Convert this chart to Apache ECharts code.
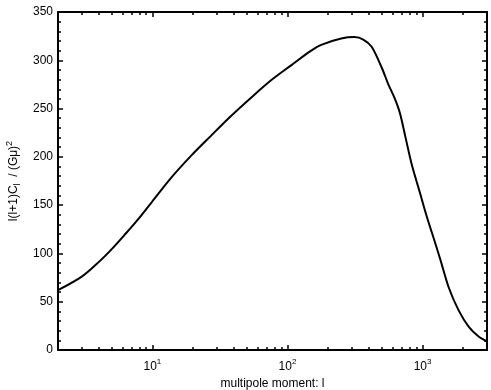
<!DOCTYPE html>
<html>
<head>
<meta charset="utf-8">
<script src="https://cdn.jsdelivr.net/npm/echarts@6/dist/echarts.min.js"></script>
<style>
  html, body { margin: 0; padding: 0; background: #fff; }
  #chart { width: 491px; height: 390px; }
</style>
</head>
<body>
<div id="chart"></div>
<script>
// multipole moment l and l(l+1)C_l/(Gmu)^2
const multipoles = [2, 3, 4, 5, 6.2, 7.8, 10, 13.7, 19.3, 27, 38, 54, 76, 107, 146, 178, 250, 314, 364, 420, 500, 558, 620, 681, 743, 832, 960, 1076, 1242, 1352, 1560, 1850, 2200, 2600, 3000];
const power = [62, 76, 91, 104.5, 119, 135, 154, 178, 201, 221.5, 242, 261.5, 279.5, 295, 309, 316, 322.5, 324, 321.5, 314, 292, 275, 261, 245, 222, 192, 162, 138, 110.5, 94, 65, 41, 24, 14, 9];

const xMajorTicks = [10, 100, 1000];
const xMinorTicks = [2, 3, 4, 5, 6, 7, 8, 9, 20, 30, 40, 50, 60, 70, 80, 90, 200, 300, 400, 500, 600, 700, 800, 900, 2000, 3000];

const font = 'Liberation Sans, Arial, sans-serif';
const xMin = 2, xMax = 3000;

// one log x-axis, bottom or top, either the main one or the one carrying the minor ticks
const logAxis = (position, ticks, len, showLine, showLabel) => ({
  type: 'log',
  position: position,
  min: xMin,
  max: xMax,
  logBase: 10,
  axisLine: { show: showLine, onZero: false, lineStyle: { color: '#000', width: 2 } },
  axisTick: { show: true, inside: true, length: len, customValues: ticks, lineStyle: { color: '#000', width: 1.5 } },
  axisLabel: {
    show: showLabel,
    customValues: xMajorTicks,
    margin: 8,
    fontFamily: font,
    fontSize: 12,
    color: '#000',
    formatter: v => '10{sup|' + Math.round(Math.log10(v)) + '}',
    rich: { sup: { fontSize: 8, verticalAlign: 'top', padding: [0, 0, 9, 0], fontFamily: font, color: '#000' } }
  },
  splitLine: { show: false }
});

const valAxis = (position, showLabel) => ({
  type: 'value',
  position: position,
  min: 0,
  max: 350,
  interval: 50,
  axisLine: { show: true, onZero: false, lineStyle: { color: '#000', width: 2 } },
  axisTick: { show: true, inside: true, length: 5, lineStyle: { color: '#000', width: 1.5 } },
  minorTick: { show: true, splitNumber: 5, length: 3, lineStyle: { color: '#000', width: 1.5 } },
  axisLabel: { show: showLabel, fontFamily: font, fontSize: 12, color: '#000', margin: 5 },
  splitLine: { show: false }
});

const chart = echarts.init(document.getElementById('chart'));

const xBottom = logAxis('bottom', xMajorTicks, 5, true, true);
xBottom.name = 'multipole moment: l';
xBottom.nameLocation = 'middle';
xBottom.nameGap = 28;
xBottom.nameTextStyle = { fontFamily: font, fontSize: 12, color: '#000' };

const yLeft = valAxis('left', true);
yLeft.name = 'l(l+1)C{sub|l}  / (Gμ){sup|2}';
yLeft.nameLocation = 'middle';
yLeft.nameRotate = 90;
yLeft.nameGap = 34;
yLeft.nameTextStyle = {
  fontFamily: font, fontSize: 12, color: '#000',
  rich: {
    sub: { fontFamily: font, fontSize: 9, color: '#000', verticalAlign: 'bottom', padding: [8, 0, 0, 0] },
    sup: { fontFamily: font, fontSize: 9, color: '#000', verticalAlign: 'top', padding: [0, 0, 8, 0] }
  }
};

chart.setOption({
  animation: false,
  backgroundColor: '#fff',
  grid: { left: 58, right: 4, top: 12, bottom: 40, containLabel: false, outerBoundsMode: 'none' },
  xAxis: [
    xBottom,
    logAxis('bottom', xMinorTicks, 3, false, false),
    logAxis('top', xMajorTicks, 5, true, false),
    logAxis('top', xMinorTicks, 3, false, false)
  ],
  yAxis: [
    yLeft,
    valAxis('right', false)
  ],
  series: [
    {
      type: 'line',
      xAxisIndex: 0,
      yAxisIndex: 0,
      data: multipoles.map((l, i) => [l, power[i]]),
      showSymbol: false,
      smooth: 0.3,
      lineStyle: { color: '#000', width: 2 },
      z: 1
    }
  ]
});
</script>
</body>
</html>
